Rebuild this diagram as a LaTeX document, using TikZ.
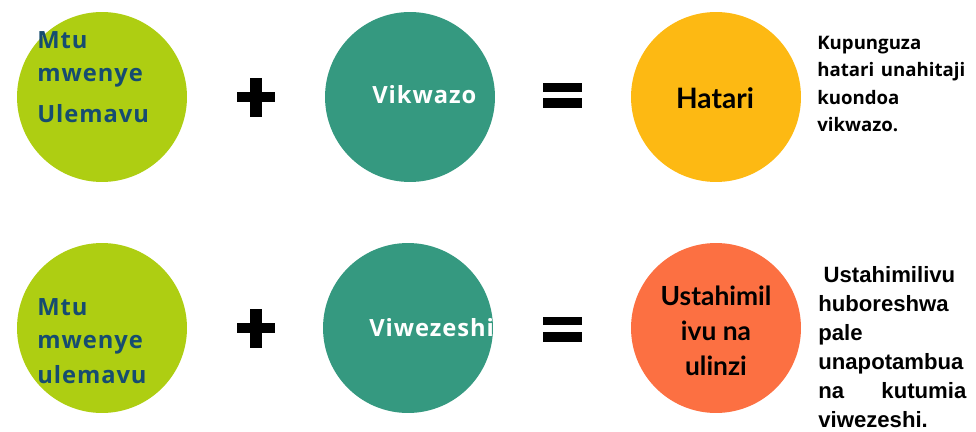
\documentclass[tikz,border=0pt]{standalone}
\usepackage{fontspec}
\setmainfont{Lato}
\newfontfamily\spaced{Open Sans}[LetterSpace=4]
\newfontfamily\opensans{Open Sans}
\newfontfamily\arialish{Liberation Sans}
\usetikzlibrary{positioning}

\definecolor{limeg}{RGB}{174,206,18}
\definecolor{tealg}{RGB}{53,153,128}
\definecolor{sunny}{RGB}{253,185,19}
\definecolor{coral}{RGB}{252,112,66}
\definecolor{navy}{RGB}{22,76,112}

\tikzset{
  disc/.style={circle, minimum size=3.4cm, inner sep=0pt},
  signbar/.style={fill=black, draw=none},
  circtext/.style={font=\spaced\bfseries\fontsize{13.5}{20}\selectfont, text=navy, align=left, inner sep=0pt, anchor=north west},
  whitetext/.style={font=\spaced\bfseries\fontsize{13.5}{16}\selectfont, text=white, anchor=west, inner sep=0pt},
  sidetext/.style={align=left, inner sep=0pt, anchor=north west}
}

\begin{document}
\begin{tikzpicture}[x=0.02cm, y=-0.02cm]
      \def\wid{148}
      \useasboundingbox (0,0) rectangle (976,432);

      % upper row
      \node[disc, fill=limeg] (persA) at (102,97) {};
      \node[disc, fill=tealg] (barr) at (410,97) {};
      \node[disc, fill=sunny] (risk) at (716,97) {};

      \node[circtext] (persAtxt) at (37,31) {Mtu\\[-1pt] mwenye\\[3pt] Ulemavu};
      \node[whitetext] (barrtxt) at (372,95) {Vikwazo};
      \node[font=\bfseries\fontsize{16}{18}\selectfont] (risktxt) at (715,98) {Hatari};

      \draw[signbar] (237,92) rectangle (275,102);
      \draw[signbar] (250,78) rectangle (262,117);
      \draw[signbar] (543,83) rectangle (582,92);
      \draw[signbar] (543,98) rectangle (582,108);

      \node[sidetext, font=\opensans\bfseries\fontsize{10.6}{15.5}\selectfont] (riskside) at (817,36)
        {Kupunguza\\ \makebox[\wid\dimexpr0.02cm\relax][s]{hatari unahitaji}\\ kuondoa\\ vikwazo.};

      % lower row
      \node[disc, fill=limeg] (persB) at (102,328) {};
      \node[disc, fill=tealg] (enab) at (408,328) {};
      \node[disc, fill=coral] (resil) at (716,328) {};

      \node[circtext] (persBtxt) at (37,298) {Mtu\\[-1pt] mwenye\\[0pt] ulemavu};
      \node[whitetext] (enabtxt) at (369,328) {Viwezeshi};
      \node[font=\bfseries\fontsize{15}{20}\selectfont, align=center] (resiltxt) at (716,331) {Ustahimil\\ivu na\\ulinzi};

      \draw[signbar] (237,323) rectangle (275,333);
      \draw[signbar] (250,309) rectangle (262,348);
      \draw[signbar] (543,317) rectangle (582,325);
      \draw[signbar] (543,332) rectangle (582,342);

      \node[sidetext, font=\arialish\bfseries\fontsize{12.6}{16.5}\selectfont] (resilside) at (818,266)
        {\hspace{3pt}Ustahimilivu\\ huboreshwa\\ pale\\ unapotambua\\ \makebox[\wid\dimexpr0.02cm\relax][s]{na kutumia}\\ viwezeshi.};
\end{tikzpicture}
\end{document}
